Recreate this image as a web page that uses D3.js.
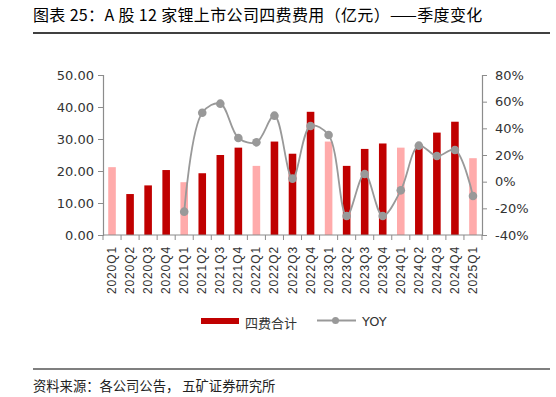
<!DOCTYPE html>
<html><head><meta charset="utf-8">
<script src="https://cdn.jsdelivr.net/npm/d3@7/dist/d3.min.js"></script>
<style>body{margin:0;background:#fff;} svg{display:block;}</style>
</head><body>
<svg id="c" width="556" height="397"></svg>
<script>
const categories = ["2020Q1","2020Q2","2020Q3","2020Q4","2021Q1","2021Q2","2021Q3","2021Q4","2022Q1","2022Q2","2022Q3","2022Q4","2023Q1","2023Q2","2023Q3","2023Q4","2024Q1","2024Q2","2024Q3","2024Q4","2025Q1"];
const expenses = [21.2,12.8,15.5,20.3,16.5,19.3,25.0,27.3,21.6,29.2,25.4,38.5,29.2,21.6,26.9,28.6,27.3,27.3,32.0,35.4,24.0];
const yoy = [null,null,null,null,-22.5,51.7,58.5,32.8,29.5,49.5,2.3,41.8,35.0,-25.7,5.8,-25.7,-6.5,27.0,19.3,23.8,-10.7];
const leftTicks = [0,10,20,30,40,50];
const rightTicks = [-40,-20,0,20,40,60,80];
const title = "图表 25：A 股 12 家锂上市公司四费费用（亿元）——季度变化";
const source = "资料来源：各公司公告， 五矿证券研究所";
const legendLabels = ["四费合计","YOY"];

(function(){
const svg = d3.select("#c");
const cjk = "'Noto Sans CJK SC', sans-serif";
const num = "'DejaVu Sans', sans-serif";
const pL = 103, pR = 482, pT = 75, pB = 235;

svg.append("text").attr("x",33).attr("y",21).attr("font-family",cjk).attr("font-size",16).attr("letter-spacing",0.35).attr("fill","#000").text(title);
svg.append("line").attr("x1",33).attr("x2",550).attr("y1",33).attr("y2",33).attr("stroke","#000").attr("stroke-width",1.5);

const x = d3.scaleBand().domain(categories).range([pL,pR]).paddingInner(0).paddingOuter(0);
const yL = d3.scaleLinear().domain([0,50]).range([pB,pT]);
const yR = d3.scaleLinear().domain([-40,80]).range([pB,pT]);

const bw = x.bandwidth()*0.42;
svg.append("g").selectAll("rect").data(categories).join("rect")
  .attr("x",d=>x(d)+x.bandwidth()/2-bw/2)
  .attr("y",(d,i)=>yL(expenses[i]))
  .attr("width",bw)
  .attr("height",(d,i)=>yL(0)-yL(expenses[i]))
  .attr("fill",d=>d.endsWith("Q1")?"#FFABAB":"#C00000");

const axisColor = "#8c8c8c";
const gL = svg.append("g").attr("transform",`translate(${pL},0)`)
  .call(d3.axisLeft(yL).tickValues(leftTicks).tickFormat(d3.format(".2f")).tickSize(5).tickPadding(4));
const gR = svg.append("g").attr("transform",`translate(${pR},0)`)
  .call(d3.axisRight(yR).tickValues(rightTicks).tickFormat(d=>d+"%").tickSize(5).tickPadding(8));
[gL,gR].forEach(g=>{
  g.select(".domain").attr("stroke",axisColor).attr("stroke-width",1.2);
  g.selectAll(".tick line").attr("stroke",axisColor);
  g.selectAll("text").attr("font-family",num).attr("font-size",13).attr("fill","#333");
});
const gX = svg.append("g").attr("transform",`translate(0,${pB})`);
gX.append("line").attr("x1",pL).attr("x2",pR).attr("stroke",axisColor).attr("stroke-width",1.2);
gX.selectAll("line.t").data(categories.concat(["end"])).join("line").attr("class","t")
  .attr("x1",(d,i)=>pL+i*x.bandwidth()).attr("x2",(d,i)=>pL+i*x.bandwidth())
  .attr("y1",0).attr("y2",5).attr("stroke",axisColor);
gX.selectAll("text").data(categories).join("text")
  .attr("transform",d=>`translate(${x(d)+x.bandwidth()/2+4},11) rotate(-90)`)
  .attr("text-anchor","end").attr("font-family","'Liberation Sans', Arial, sans-serif").attr("font-size",12).attr("letter-spacing",0.9).attr("fill","#333")
  .text(d=>d);

const pts = categories.map((c,i)=>({c,v:yoy[i]})).filter(d=>d.v!==null);
const line = d3.line().x(d=>x(d.c)+x.bandwidth()/2).y(d=>yR(d.v)).curve(d3.curveCatmullRom.alpha(0.5));
svg.append("path").datum(pts).attr("d",line).attr("fill","none").attr("stroke","#999").attr("stroke-width",1.8);
svg.append("g").selectAll("circle").data(pts).join("circle")
  .attr("cx",d=>x(d.c)+x.bandwidth()/2).attr("cy",d=>yR(d.v)).attr("r",4.3).attr("fill","#999");

const lg = svg.append("g");
lg.append("rect").attr("x",201).attr("y",318).attr("width",38).attr("height",6).attr("fill","#C00000");
lg.append("text").attr("x",245).attr("y",328).attr("font-family",cjk).attr("font-size",13).attr("fill","#333").text(legendLabels[0]);
lg.append("line").attr("x1",317).attr("x2",356).attr("y1",320.5).attr("y2",320.5).attr("stroke","#999").attr("stroke-width",1.8);
lg.append("circle").attr("cx",335.5).attr("cy",320.5).attr("r",3.5).attr("fill","#999");
lg.append("text").attr("x",362).attr("y",326).attr("font-family",num).attr("font-size",13).attr("fill","#333").text(legendLabels[1]);

svg.append("line").attr("x1",33).attr("x2",550).attr("y1",369).attr("y2",369).attr("stroke","#000").attr("stroke-width",1.2);
svg.append("text").attr("x",33).attr("y",391).attr("font-family",cjk).attr("font-size",13.3).attr("fill","#222").text(source);
})();
</script>
</body></html>
